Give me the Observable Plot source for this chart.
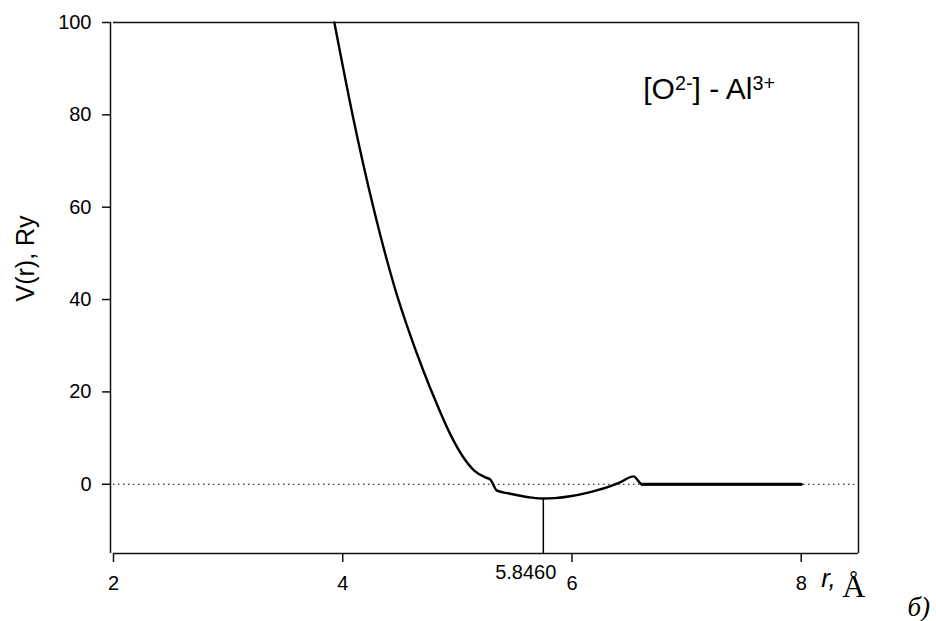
<!DOCTYPE html>
<html>
<head>
<meta charset="utf-8">
<script src="https://cdn.jsdelivr.net/npm/d3@7"></script>
<script src="https://cdn.jsdelivr.net/npm/@observablehq/plot@0.6"></script>
<style>
  html, body { margin: 0; padding: 0; background: #fff; }
</style>
</head>
<body>
<div id="chart"></div>
<script>
// r (Å) and V(r) (Ry)
const rVals = [3.927, 4.09, 4.265, 4.387, 4.48, 4.561, 4.70, 4.834, 4.94, 5.052, 5.15, 5.244, 5.288, 5.346, 5.45, 5.549, 5.65, 5.75, 5.85, 5.985, 6.142, 6.305, 6.42, 6.537, 6.611, 7.0, 7.5, 8.0];
const vVals = [100, 79.5, 60.2, 48.4, 40.4, 34.3, 24.8, 16.6, 10.75, 5.85, 2.9, 1.5, 1.0, -1.4, -2.0, -2.5, -2.9, -3.1, -3.0, -2.6, -1.8, -0.7, 0.4, 1.7, 0, 0, 0, 0];
const xTicks = [2, 4, 6, 8];
const yTicks = [0, 20, 40, 60, 80, 100];
const markerR = 5.75;
const markerV = -3.1;
const markerLabel = "5.8460";
const annotation = "[O2-] - Al3+";
const yLabel = "V(r), Ry";
const xLabelVar = "r,";
const xLabelUnit = "Å";
const panelLabel = "б)";

const data = rVals.map((r, i) => ({r, v: vVals[i]}));
const flat = data.filter(d => d.r >= 6.611);

const sans = "Liberation Sans, Arial, Helvetica, sans-serif";
const serif = "Liberation Serif, Times New Roman, serif";
const axisColor = "#111";

const plot = Plot.plot({
  width: 936,
  height: 621,
  marginLeft: 113,
  marginRight: 78,
  marginTop: 22,
  marginBottom: 68,
  style: {fontFamily: sans, fontSize: "20px", background: "#fff", color: "#000"},
  x: {domain: [2, 8.5], axis: null},
  y: {domain: [-15, 100], axis: null},
  marks: [
    // zero reference
    Plot.ruleY([0], {stroke: "#000", strokeWidth: 1.2, strokeDasharray: "1.5,3.5"}),
    // frame
    Plot.ruleY([100], {stroke: axisColor, strokeWidth: 1.5}),
    Plot.ruleX([8.5], {stroke: axisColor, strokeWidth: 1.5}),
    Plot.ruleY([-15], {stroke: axisColor, strokeWidth: 1.5}),
    Plot.ruleX([2], {stroke: axisColor, strokeWidth: 1.5, dx: -3}),
    // axes
    Plot.axisY(yTicks, {tickSize: 8, tickPadding: 11, dx: -3, fontSize: 20, tickFormat: d => String(d), stroke: axisColor, strokeWidth: 1.5, label: null}),
    Plot.axisX(xTicks, {tickSize: 9, tickPadding: 13, fontSize: 20, tickFormat: d => String(d), stroke: axisColor, strokeWidth: 1.5, label: null}),
    // minimum marker
    Plot.ruleX([markerR], {y1: -15, y2: markerV, stroke: "#000", strokeWidth: 1.5}),
    Plot.text([markerLabel], {x: markerR, y: -15, dx: 13, dy: 19, textAnchor: "end", fontSize: 20}),
    // curve
    Plot.line(data, {x: "r", y: "v", curve: "monotone-x", stroke: "#000", strokeWidth: 2.4}),
    Plot.line(flat, {x: "r", y: "v", stroke: "#000", strokeWidth: 3}),
    // texts
    Plot.text([annotation], {x: 6.622, y: 85.5, textAnchor: "start", fontSize: 30}),
    Plot.text([yLabel], {x: 2, y: 48.9, rotate: -90, dx: -88, fontSize: 25}),
    Plot.text([xLabelVar], {x: 8, y: -15, dx: 20, dy: 25, textAnchor: "start", fontSize: 26, fontStyle: "italic"}),
    Plot.text([xLabelUnit], {x: 8, y: -15, dx: 41, dy: 32.8, textAnchor: "start", fontSize: 32, fontFamily: serif}),
    Plot.text([panelLabel], {x: 8.5, y: -15, dx: 49, dy: 54, textAnchor: "start", fontSize: 27, fontStyle: "italic", fontFamily: serif})
  ]
});

// superscripts in the annotation
d3.select(plot).selectAll("text").each(function() {
  if (this.textContent === annotation) {
    const t = d3.select(this);
    t.text(null);
    t.append("tspan").text("[O");
    t.append("tspan").attr("dy", "-0.45em").attr("font-size", "0.66em").text("2-");
    t.append("tspan").attr("dy", "0.3em").text("] - Al");
    t.append("tspan").attr("dy", "-0.45em").attr("font-size", "0.66em").text("3+");
  }
});

document.getElementById("chart").appendChild(plot);
</script>
</body>
</html>
